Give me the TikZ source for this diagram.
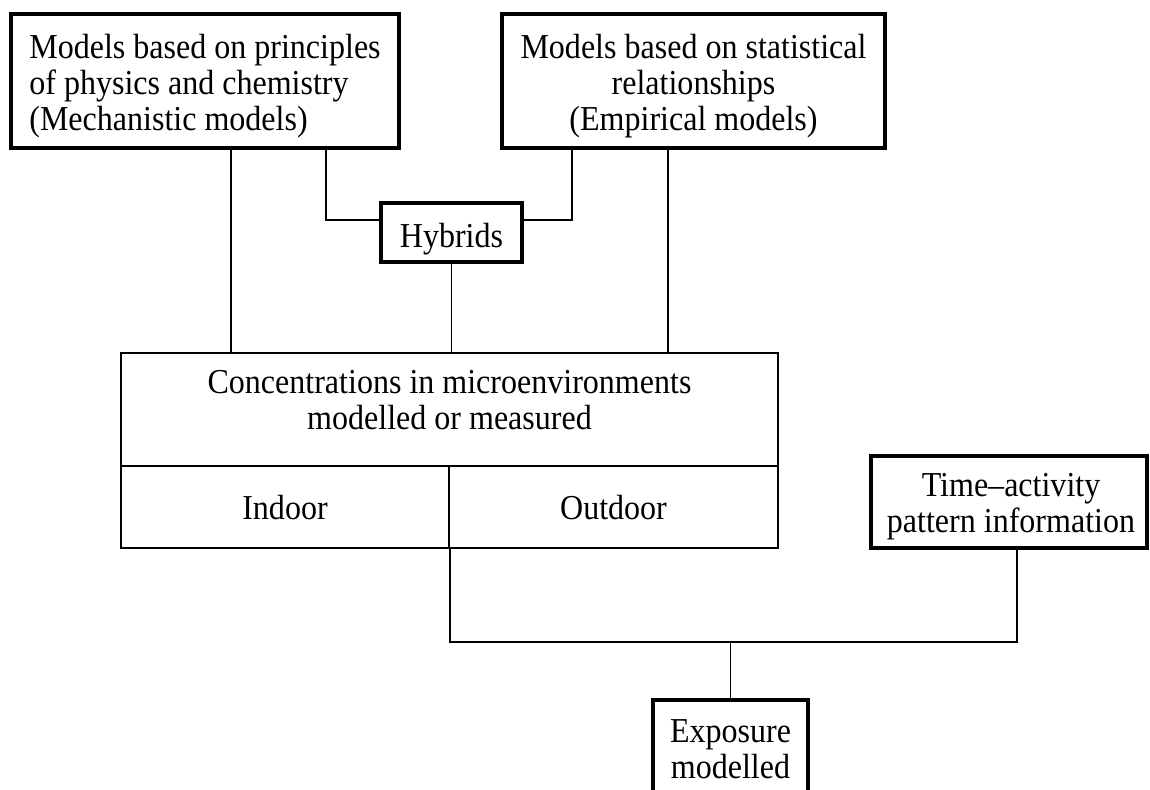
\documentclass[tikz,border=0pt]{standalone}
\usepackage{fontspec}
\setmainfont[FakeStretch=0.915]{Liberation Serif}
\begin{document}
\begin{tikzpicture}[x=1pt,y=-1pt,
  every node/.style={font=\fontsize{35}{36}\selectfont, inner sep=0pt},
  heavy/.style={draw, line width=3.5pt, rectangle},
  light/.style={draw, line width=1.6pt, rectangle},
  link/.style={line width=1.4pt},
]
\useasboundingbox (0,0) rectangle (1150,789);

% model families
\node[heavy, minimum width=388, minimum height=134] (mech) at (205,81) {};
\node[align=left] (mechtext) at (205,86.5)
  {Models based on principles\\of physics and chemistry\\(Mechanistic models)};
\node[heavy, minimum width=383, minimum height=134] (emp) at (693.5,81) {};
\node[align=center] (emptext) at (693.5,86.5)
  {Models based on statistical\\relationships\\(Empirical models)};
\node[heavy, minimum width=141, minimum height=59] (hyb) at (451.5,232.5) {};
\node (hybtext) at (451.5,239) {Hybrids};

% microenvironment concentrations
\node[light, minimum width=657, minimum height=113] (conc) at (449.5,409.5) {};
\node[align=center] (conctext) at (449.5,400)
  {Concentrations in microenvironments\\modelled or measured};
\node[light, minimum width=328, minimum height=82] (indoor) at (285,507) {};
\node (indoortext) at (285,508) {Indoor};
\node[light, minimum width=329, minimum height=82] (outdoor) at (613.5,507) {};
\node (outdoortext) at (613.5,508) {Outdoor};

% activity and exposure
\node[heavy, minimum width=276, minimum height=92] (time) at (1009,502) {};
\node[align=center] (timetext) at (1011,507)
  {Time--activity\\pattern information};
\node[heavy, minimum width=155, minimum height=102, anchor=north] (expo) at (730.5,698) {};
\node[align=center] (expotext) at (730.5,749)
  {Exposure\\modelled};

% routing guides
\coordinate (xa) at (231,0);
\coordinate (xb) at (326,0);
\coordinate (xc) at (572,0);
\coordinate (xd) at (668,0);
\coordinate (xt) at (1017,0);
\coordinate (yh) at (0,220);
\coordinate (yb) at (0,642);

% connectors
\draw[link] (mech.south -| xa) -- (conc.north -| xa);
\draw[link] (mech.south -| xb) |- (hyb.west |- yh);
\draw[link] (emp.south -| xc) |- (hyb.east |- yh);
\draw[link] (emp.south -| xd) -- (conc.north -| xd);
\draw[link] (hyb.south) -- (conc.north -| hyb.south);
\draw[link] (indoor.south east) -- (indoor.south east |- yb) -| (time.south -| xt);
\draw[link] (expo.north) -- (expo.north |- yb);
\end{tikzpicture}
\end{document}
